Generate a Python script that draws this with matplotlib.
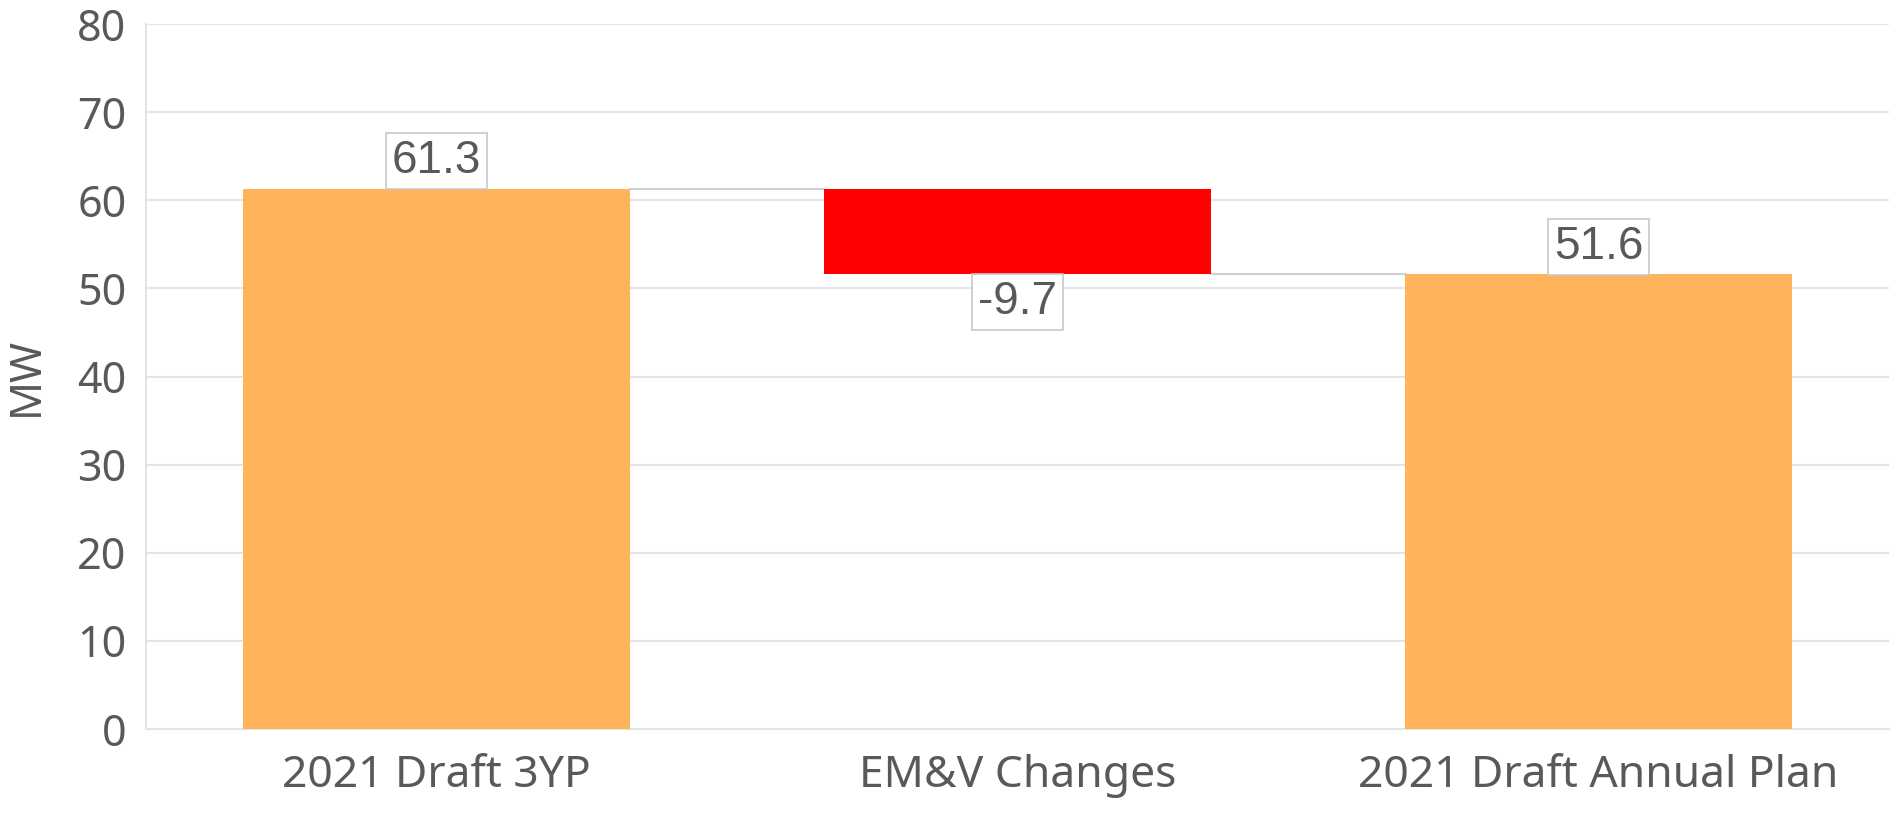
import matplotlib.pyplot as plt

categorias = ['2021 Draft 3YP', 'EM&V Changes', '2021 Draft Annual Plan']
valores = [61.3, -9.7, 51.6]
rotulos = ['61.3', '-9.7', '51.6']
yticks = [0, 10, 20, 30, 40, 50, 60, 70, 80]

cinza = '#595959'
laranja = '#FFB35B'
vermelho = '#FF0000'

fig = plt.figure(figsize=(18.95, 8.14), dpi=100)
ax = fig.add_axes([0.077, 0.1044, 0.9198, 0.8661])

# waterfall: bases e alturas
base = [0, valores[0] + valores[1], 0]
altura = [valores[0], -valores[1], valores[2]]
cores = [laranja, vermelho, laranja]
x = [0, 1, 2]
larg = 0.665
ax.bar(x, altura, bottom=base, width=larg, color=cores, zorder=3)

# linhas de ligacao
ax.plot([0 + larg / 2, 1 - larg / 2], [valores[0], valores[0]], color='#D0D0D0', lw=1.5, zorder=2)
ax.plot([1 + larg / 2, 2 - larg / 2], [valores[2], valores[2]], color='#D0D0D0', lw=1.5, zorder=2)

caixa = dict(boxstyle='square,pad=0.13', fc='white', ec='#C8C8C8', lw=1.2)
ax.annotate(rotulos[0], (0, valores[0]), xytext=(0, 4), textcoords='offset points',
            ha='center', va='bottom', fontsize=33, color=cinza, family='Liberation Sans', bbox=caixa, zorder=4)
ax.annotate(rotulos[1], (1, base[1]), xytext=(0, -4), textcoords='offset points',
            ha='center', va='top', fontsize=33, color=cinza, family='Liberation Sans', bbox=caixa, zorder=4)
ax.annotate(rotulos[2], (2, valores[2]), xytext=(0, 4), textcoords='offset points',
            ha='center', va='bottom', fontsize=33, color=cinza, family='Liberation Sans', bbox=caixa, zorder=4)

ax.set_xlim(-0.5, 2.5)
ax.set_ylim(0, 80)
ax.set_yticks(yticks)
ax.set_xticks(x)
ax.set_xticklabels(categorias, fontsize=32, color=cinza, family='Noto Sans')
for t in ax.get_yticklabels():
    t.set_fontsize(31)
    t.set_color(cinza)
    t.set_family('Noto Sans')
ax.tick_params(axis='both', length=0)
ax.tick_params(axis='y', pad=14)
ax.tick_params(axis='x', pad=18)
ax.set_ylabel('MW', fontsize=31, color=cinza, family='Noto Sans', labelpad=20)

ax.grid(axis='y', color='#E4E4E4', lw=1.5, zorder=0)
for s in ['top', 'right']:
    ax.spines[s].set_visible(False)
ax.spines['left'].set_color('#E4E4E4')
ax.spines['bottom'].set_color('#E4E4E4')
ax.spines['left'].set_linewidth(1.5)
ax.spines['bottom'].set_linewidth(1.5)

plt.savefig('out.png', dpi=100)
